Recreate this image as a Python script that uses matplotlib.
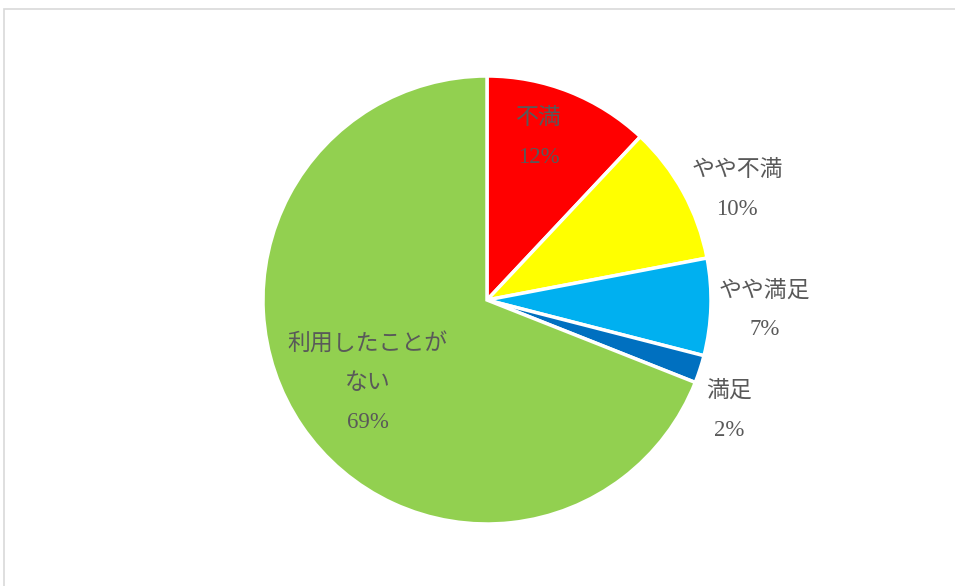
import numpy as np
import matplotlib
matplotlib.use("Agg")
import matplotlib.pyplot as plt
from matplotlib.patches import Rectangle

plt.rcParams['font.family'] = ['Liberation Serif', 'Noto Sans CJK JP', 'DejaVu Sans']

categories = ["不満", "やや不満", "やや満足", "満足", "利用したことが\nない"]
values = [12, 10, 7, 2, 69]
colors = ["#FF0000", "#FFFF00", "#00B0F0", "#0070C0", "#92D050"]

# label placement styles (radial distance in radii, angle tweak in degrees)
label_dist = [0.76, 1.22, 1.24, 1.19, 0.65]
label_dang = [4.0, -5.0, -0.3, -6.6, 0.7]

W, H = 955, 586
fig = plt.figure(figsize=(W / 100, H / 100), dpi=100)

# chart border
fig.add_artist(Rectangle((4 / W, -0.05), 1.1, (H - 9) / H + 0.05, transform=fig.transFigure,
                         fill=False, edgecolor="#D9D9D9", linewidth=1.2))

cx, cy, R = 487, H - 300, 224
ax = fig.add_axes([(cx - R) / W, (cy - R) / H, 2 * R / W, 2 * R / H])
wedges, _ = ax.pie(values, colors=colors, startangle=90, counterclock=False,
                   radius=1.0, wedgeprops=dict(edgecolor="white", linewidth=2.5))
ax.set_xlim(-1, 1)
ax.set_ylim(-1, 1)
ax.set_aspect("equal")
ax.axis("off")

for w, cat, v, d, da in zip(wedges, categories, values, label_dist, label_dang):
    mid = np.deg2rad((w.theta1 + w.theta2) / 2 + da)
    x, y = d * np.cos(mid), d * np.sin(mid)
    ax.text(x, y, f"{cat}\n{v}%", ha="center", va="center", fontsize=16.5,
            color="#595959", linespacing=2.12, clip_on=False)

fig.savefig("out.png", dpi=100)
